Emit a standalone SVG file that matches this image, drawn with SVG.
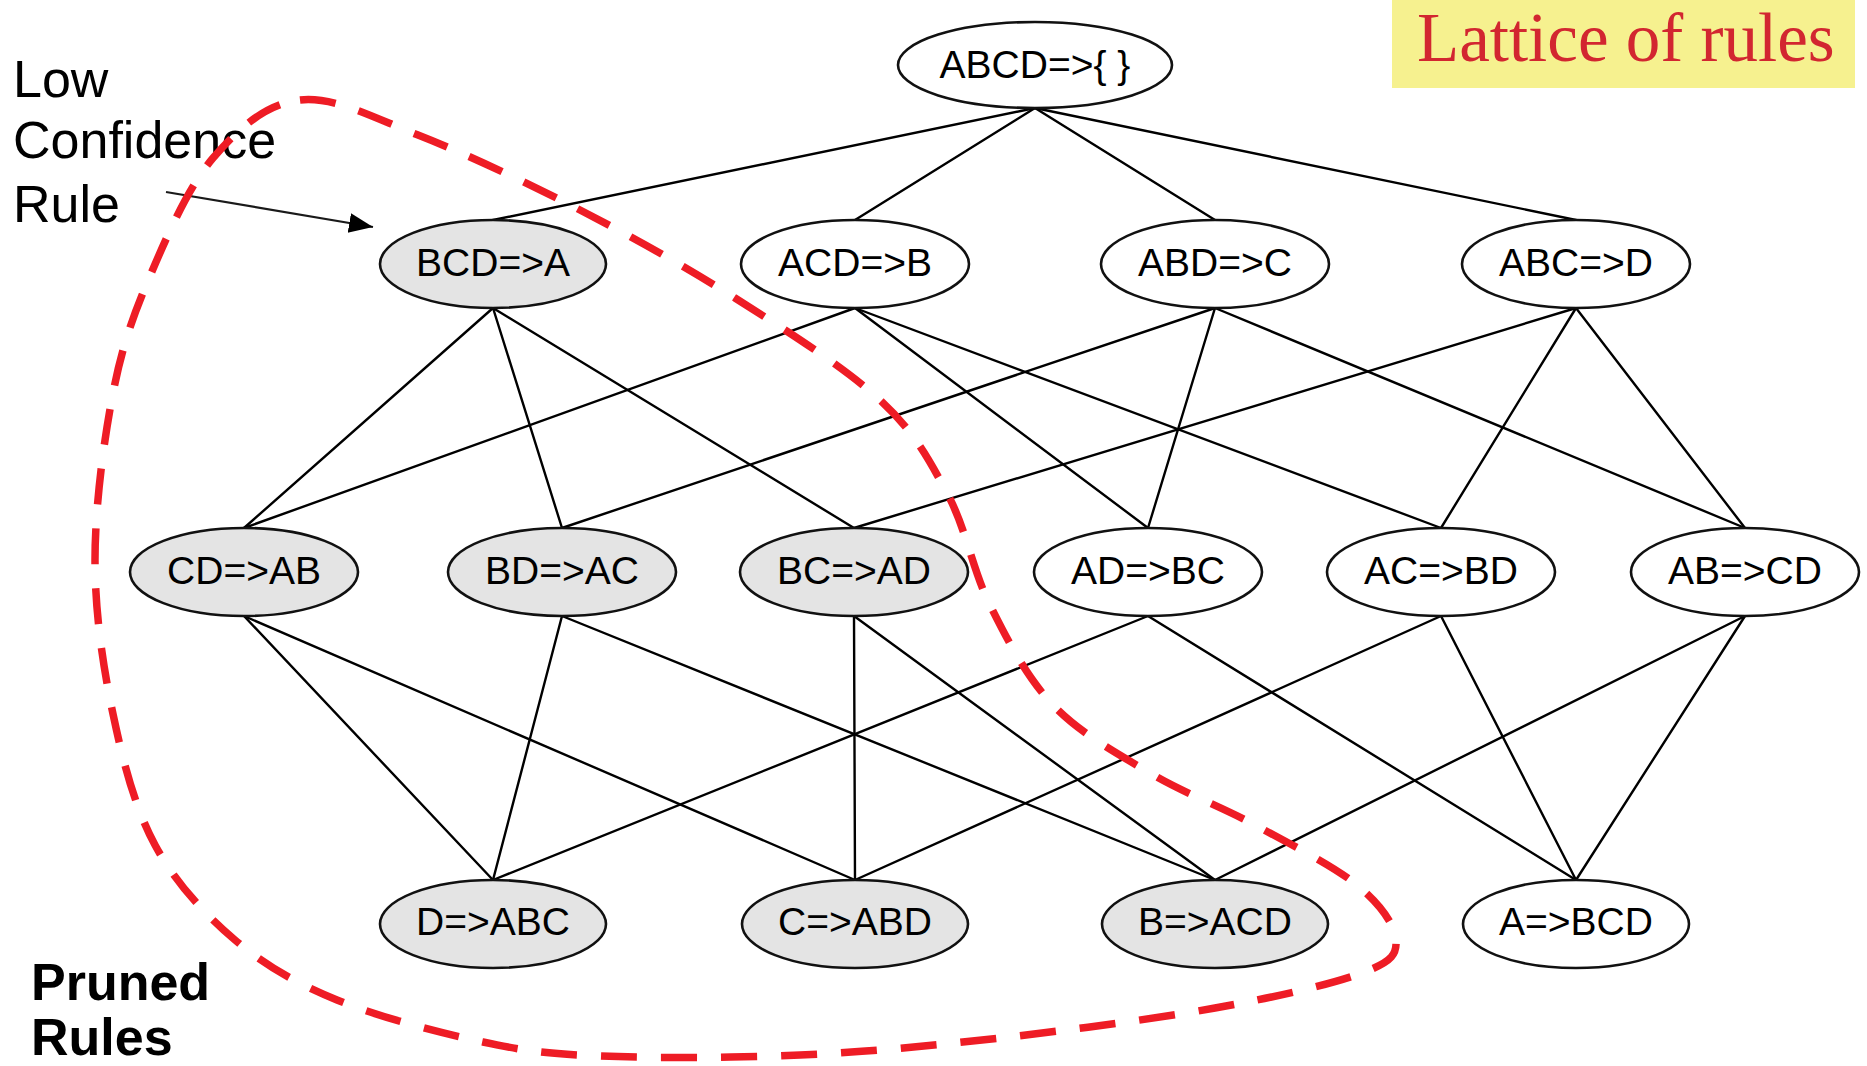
<svg xmlns="http://www.w3.org/2000/svg" width="1867" height="1066" viewBox="0 0 1867 1066">
  <style>
    .node ellipse { stroke: #111; stroke-width: 2.6; }
    .plain ellipse { fill: #ffffff; }
    .pruned ellipse { fill: #e4e4e4; }
    .node text { font-family: "Liberation Sans", Arial, sans-serif; font-size: 39px; fill: #000; text-anchor: middle; }
    .edges line { stroke: #000; stroke-width: 2.4; stroke-linecap: round; }
    .note { font-family: "Liberation Sans", Arial, sans-serif; font-size: 52px; fill: #000; }
    .bold { font-weight: bold; }
  </style>
  <defs>
    <marker id="head" markerUnits="userSpaceOnUse" markerWidth="26" markerHeight="22" refX="24" refY="10" orient="auto">
      <path d="M0,0 L24,10 L0,20 Z" fill="#000"/>
    </marker>
  </defs>

  <rect width="1867" height="1066" fill="#ffffff"/>

  <!-- title box -->
  <g id="title">
    <rect x="1392" y="0" width="463" height="88" fill="#f6f18f"/>
    <text x="1417" y="61" font-family="'Liberation Serif', 'Times New Roman', serif" font-size="69" fill="#d22630">Lattice of rules</text>
  </g>

  <!-- lattice connectors -->
  <g id="connectors" class="edges">
    <!-- level 0 to level 1 -->
    <line x1="1035" y1="108" x2="493" y2="220"/>
    <line x1="1035" y1="108" x2="855" y2="220"/>
    <line x1="1035" y1="108" x2="1215" y2="220"/>
    <line x1="1035" y1="108" x2="1576" y2="220"/>
    <!-- level 1 to level 2 -->
    <line x1="493" y1="308" x2="244" y2="528"/>
    <line x1="493" y1="308" x2="562" y2="528"/>
    <line x1="493" y1="308" x2="854" y2="528"/>
    <line x1="855" y1="308" x2="244" y2="528"/>
    <line x1="855" y1="308" x2="1148" y2="528"/>
    <line x1="855" y1="308" x2="1441" y2="528"/>
    <line x1="1215" y1="308" x2="562" y2="528"/>
    <line x1="1215" y1="308" x2="1148" y2="528"/>
    <line x1="1215" y1="308" x2="1745" y2="528"/>
    <line x1="1576" y1="308" x2="854" y2="528"/>
    <line x1="1576" y1="308" x2="1441" y2="528"/>
    <line x1="1576" y1="308" x2="1745" y2="528"/>
    <!-- level 2 to level 3 -->
    <line x1="244" y1="616" x2="493" y2="880"/>
    <line x1="244" y1="616" x2="855" y2="880"/>
    <line x1="562" y1="616" x2="493" y2="880"/>
    <line x1="562" y1="616" x2="1215" y2="880"/>
    <line x1="854" y1="616" x2="855" y2="880"/>
    <line x1="854" y1="616" x2="1215" y2="880"/>
    <line x1="1148" y1="616" x2="493" y2="880"/>
    <line x1="1148" y1="616" x2="1576" y2="880"/>
    <line x1="1441" y1="616" x2="855" y2="880"/>
    <line x1="1441" y1="616" x2="1576" y2="880"/>
    <line x1="1745" y1="616" x2="1215" y2="880"/>
    <line x1="1745" y1="616" x2="1576" y2="880"/>
  </g>

  <!-- level 0 -->
  <g id="n-ABCD" class="node plain">
    <ellipse cx="1035" cy="65" rx="137" ry="43"/>
    <text x="1035" y="78">ABCD=&gt;{ }</text>
  </g>

  <!-- level 1 -->
  <g id="n-BCD-A" class="node pruned">
    <ellipse cx="493" cy="264" rx="113" ry="44"/>
    <text x="493" y="276">BCD=&gt;A</text>
  </g>
  <g id="n-ACD-B" class="node plain">
    <ellipse cx="855" cy="264" rx="114" ry="44"/>
    <text x="855" y="276">ACD=&gt;B</text>
  </g>
  <g id="n-ABD-C" class="node plain">
    <ellipse cx="1215" cy="264" rx="114" ry="44"/>
    <text x="1215" y="276">ABD=&gt;C</text>
  </g>
  <g id="n-ABC-D" class="node plain">
    <ellipse cx="1576" cy="264" rx="114" ry="44"/>
    <text x="1576" y="276">ABC=&gt;D</text>
  </g>

  <!-- level 2 -->
  <g id="n-CD-AB" class="node pruned">
    <ellipse cx="244" cy="572" rx="114" ry="44"/>
    <text x="244" y="584">CD=&gt;AB</text>
  </g>
  <g id="n-BD-AC" class="node pruned">
    <ellipse cx="562" cy="572" rx="114" ry="44"/>
    <text x="562" y="584">BD=&gt;AC</text>
  </g>
  <g id="n-BC-AD" class="node pruned">
    <ellipse cx="854" cy="572" rx="114" ry="44"/>
    <text x="854" y="584">BC=&gt;AD</text>
  </g>
  <g id="n-AD-BC" class="node plain">
    <ellipse cx="1148" cy="572" rx="114" ry="44"/>
    <text x="1148" y="584">AD=&gt;BC</text>
  </g>
  <g id="n-AC-BD" class="node plain">
    <ellipse cx="1441" cy="572" rx="114" ry="44"/>
    <text x="1441" y="584">AC=&gt;BD</text>
  </g>
  <g id="n-AB-CD" class="node plain">
    <ellipse cx="1745" cy="572" rx="114" ry="44"/>
    <text x="1745" y="584">AB=&gt;CD</text>
  </g>

  <!-- level 3 -->
  <g id="n-D-ABC" class="node pruned">
    <ellipse cx="493" cy="924" rx="113" ry="44"/>
    <text x="493" y="935">D=&gt;ABC</text>
  </g>
  <g id="n-C-ABD" class="node pruned">
    <ellipse cx="855" cy="924" rx="113" ry="44"/>
    <text x="855" y="935">C=&gt;ABD</text>
  </g>
  <g id="n-B-ACD" class="node pruned">
    <ellipse cx="1215" cy="924" rx="113" ry="44"/>
    <text x="1215" y="935">B=&gt;ACD</text>
  </g>
  <g id="n-A-BCD" class="node plain">
    <ellipse cx="1576" cy="924" rx="113" ry="44"/>
    <text x="1576" y="935">A=&gt;BCD</text>
  </g>

  <!-- annotation: low confidence rule -->
  <g id="low-confidence">
    <text class="note" x="13" y="97">Low</text>
    <text class="note" x="13" y="158">Confidence</text>
    <text class="note" x="13" y="222">Rule</text>
    <line x1="166" y1="192" x2="373" y2="227" stroke="#1a1a1a" stroke-width="2.2" marker-end="url(#head)"/>
  </g>

  <!-- annotation: pruned rules -->
  <g id="pruned-label">
    <text class="note bold" x="31" y="1000">Pruned</text>
    <text class="note bold" x="31" y="1055">Rules</text>
  </g>

  <!-- pruned region outline -->
  <path id="pruned-region" fill="none" stroke="#ee1c25" stroke-width="7.5" stroke-dasharray="36 24"
    d="M300,100
       C334.2,96.2 371.3,116.7 418,135
       C464.7,153.3 527.2,182.8 580,210
       C632.8,237.2 685,266.3 735,298
       C785,329.7 844.5,367.2 880,400
       C915.5,432.8 929.7,460.8 948,495
       C966.3,529.2 972.5,570 990,605
       C1007.5,640 1026.3,677 1053,705
       C1079.7,733 1116.3,753 1150,773
       C1183.7,793 1220.5,806.3 1255,825
       C1289.5,843.7 1333.5,865.8 1357,885
       C1380.5,904.2 1395.2,925.3 1396,940
       C1396.8,954.7 1392.2,961.7 1362,973
       C1331.8,984.3 1275.3,997.2 1215,1008
       C1154.7,1018.8 1069.2,1030.2 1000,1038
       C930.8,1045.8 866.7,1052 800,1055
       C733.3,1058 652.8,1058.2 600,1056
       C547.2,1053.8 526.8,1051.3 483,1042
       C439.2,1032.7 378.3,1017 337,1000
       C295.7,983 265.3,965.8 235,940
       C204.7,914.2 175.3,882.7 155,845
       C134.7,807.3 123,761.5 113,714
       C103,666.5 95,613.5 95,560
       C95,506.5 103.8,440.3 113,393
       C122.2,345.7 133.3,315.2 150,276
       C166.7,236.8 188,187.3 213,158
       C238,128.7 265.8,103.8 300,100 Z"/>
</svg>
